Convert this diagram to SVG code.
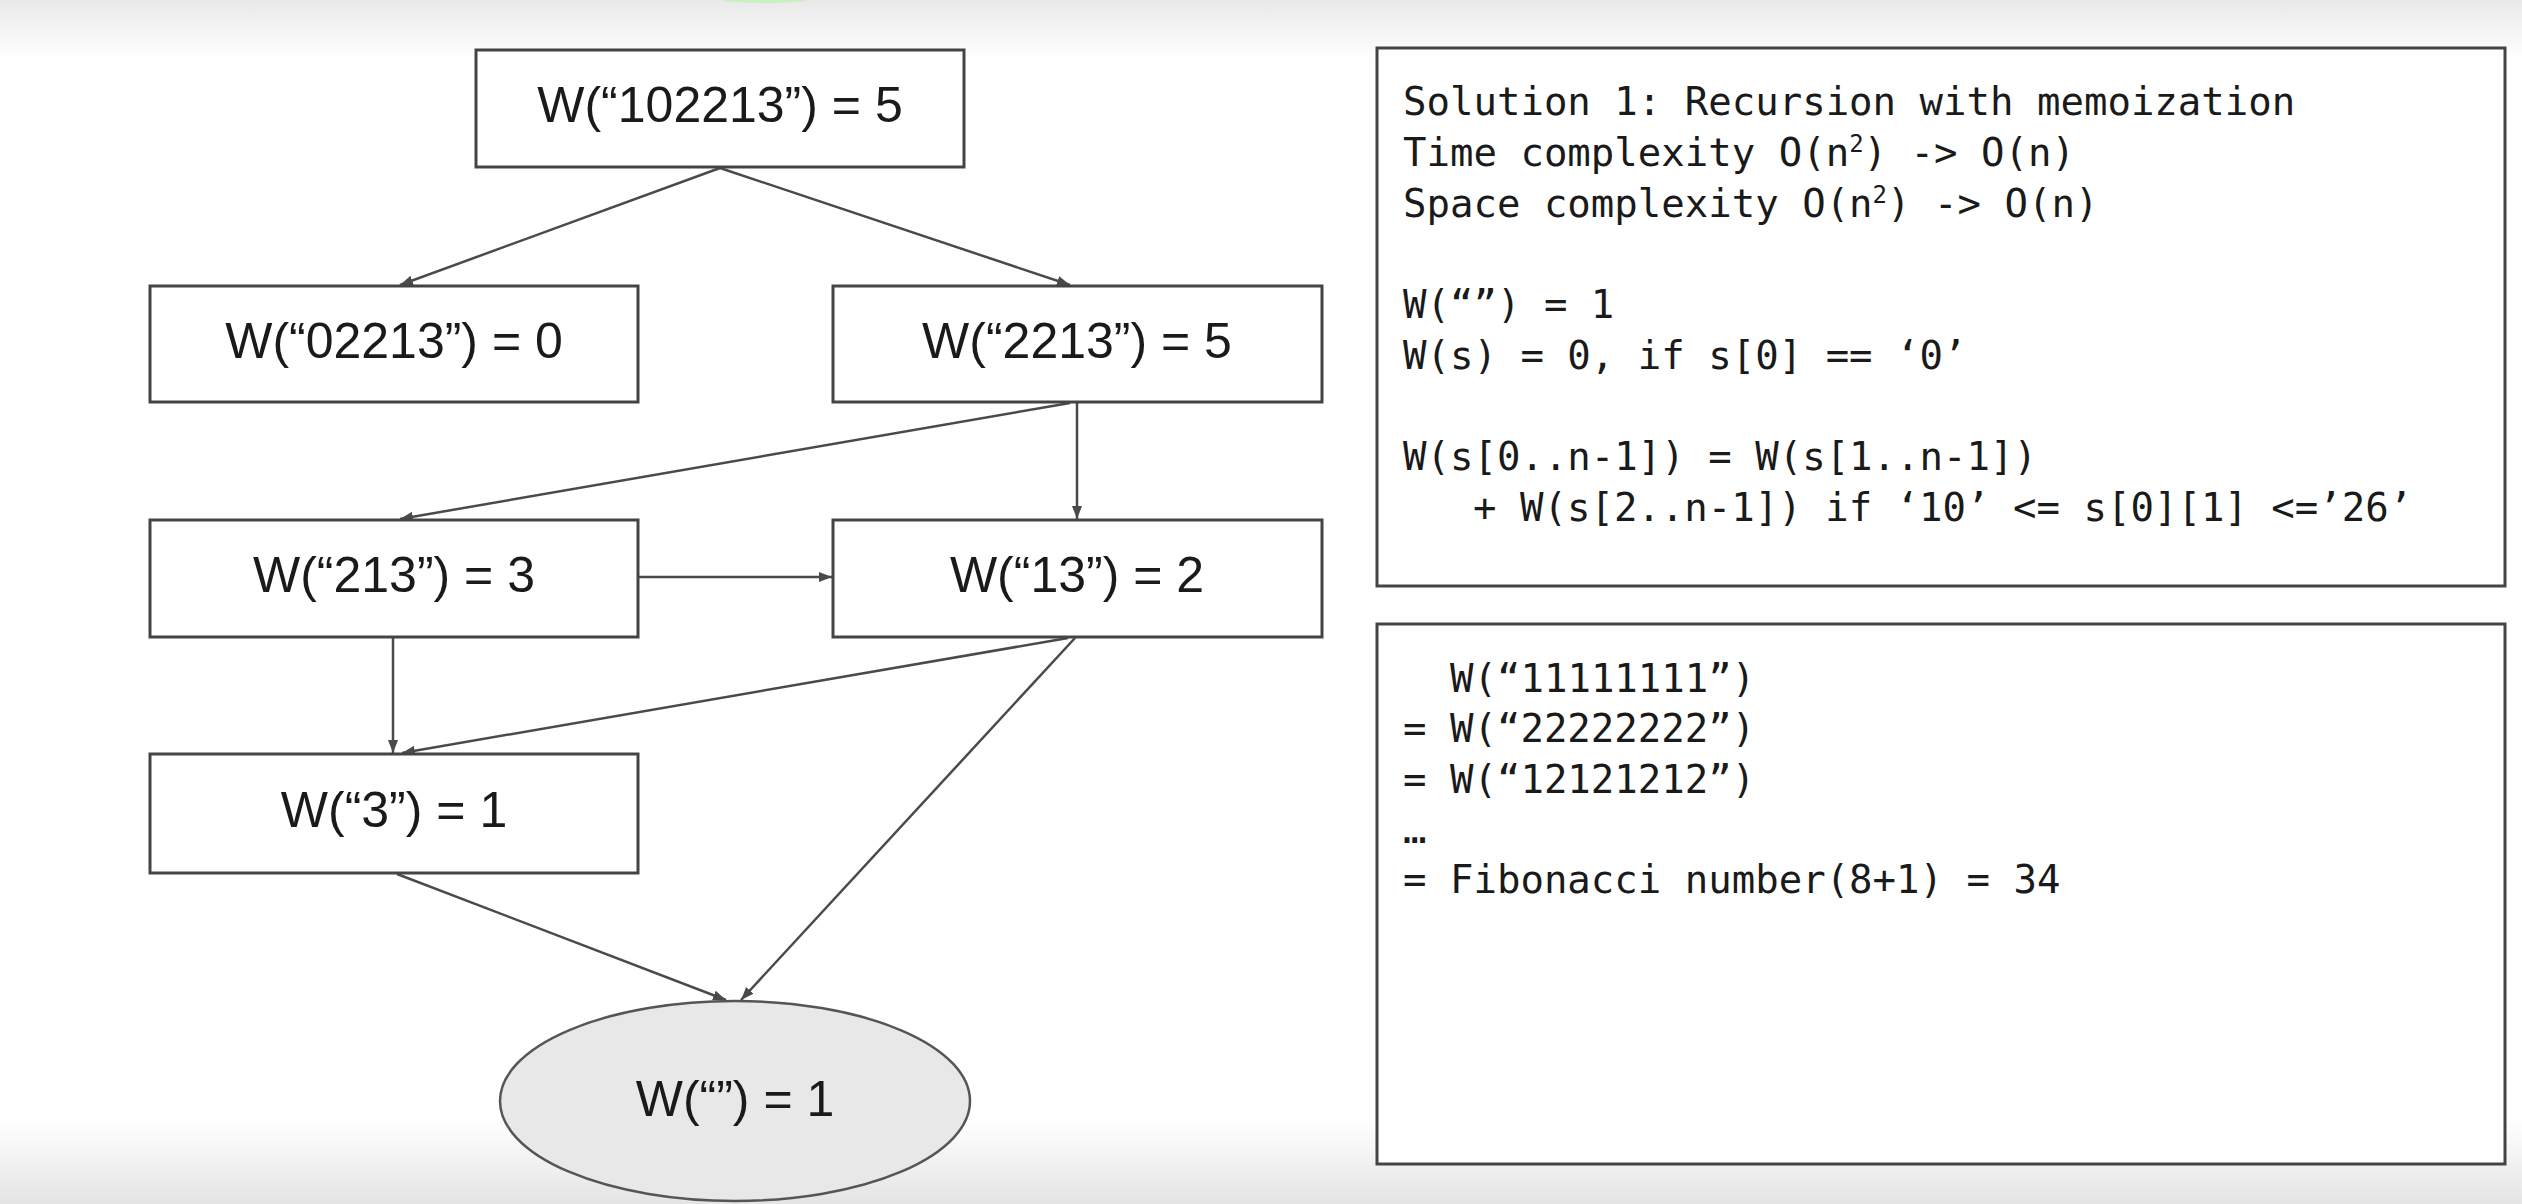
<svg xmlns="http://www.w3.org/2000/svg" width="2522" height="1204" viewBox="0 0 2522 1204">
<defs>
<linearGradient id="topfade" x1="0" y1="0" x2="0" y2="1">
<stop offset="0" stop-color="#e9e9e9"/>
<stop offset="1" stop-color="#ffffff"/>
</linearGradient>
<linearGradient id="botfade" x1="0" y1="0" x2="0" y2="1">
<stop offset="0" stop-color="#ffffff"/>
<stop offset="1" stop-color="#e4e4e4"/>
</linearGradient>
<marker id="arr" markerUnits="userSpaceOnUse" markerWidth="14" markerHeight="12" refX="13" refY="6" orient="auto">
<path d="M0,1 L13,6 L0,11 Z" fill="#4a4a4a"/>
</marker>
<style>
.box{fill:#ffffff;stroke:#444;stroke-width:3}
.oval{fill:#e8e8e8;stroke:#555;stroke-width:2.5}
.lbl{font-family:"Liberation Sans",Arial,sans-serif;font-size:50px;fill:#1a1a1a;text-anchor:middle}
.panel{fill:#ffffff;stroke:#444;stroke-width:3}
.code{font-family:"DejaVu Sans Mono","Liberation Mono",monospace;font-size:39px;fill:#1a1a1a}
.edge{stroke:#4a4a4a;stroke-width:2.5;fill:none;marker-end:url(#arr)}
</style>
</defs>
<rect x="0" y="0" width="2522" height="1204" fill="#ffffff"/>
<rect x="0" y="0" width="2522" height="60" fill="url(#topfade)"/>
<rect x="0" y="1120" width="2522" height="84" fill="url(#botfade)"/>
<ellipse cx="765" cy="0" rx="42" ry="3" fill="#c9f0c0"/>

<g id="connectors">
<line class="edge" x1="720" y1="168" x2="400" y2="285"/>
<line class="edge" x1="720" y1="168" x2="1070" y2="285"/>
<line class="edge" x1="1070" y1="403" x2="400" y2="519"/>
<line class="edge" x1="1077" y1="403" x2="1077" y2="519"/>
<line class="edge" x1="638" y1="577" x2="832" y2="577"/>
<line class="edge" x1="393" y1="638" x2="393" y2="753"/>
<line class="edge" x1="1068" y1="638" x2="402" y2="753"/>
<line class="edge" x1="1075" y1="638" x2="741" y2="1000"/>
<line class="edge" x1="397" y1="874" x2="726" y2="1000"/>
</g>

<g id="n102213">
<rect class="box" x="476" y="50" width="488" height="117"/>
<text class="lbl" x="720" y="122">W(“102213”) = 5</text>
</g>
<g id="n02213">
<rect class="box" x="150" y="286" width="488" height="116"/>
<text class="lbl" x="394" y="358">W(“02213”) = 0</text>
</g>
<g id="n2213">
<rect class="box" x="833" y="286" width="489" height="116"/>
<text class="lbl" x="1077" y="358">W(“2213”) = 5</text>
</g>
<g id="n213">
<rect class="box" x="150" y="520" width="488" height="117"/>
<text class="lbl" x="394" y="592">W(“213”) = 3</text>
</g>
<g id="n13">
<rect class="box" x="833" y="520" width="489" height="117"/>
<text class="lbl" x="1077" y="592">W(“13”) = 2</text>
</g>
<g id="n3">
<rect class="box" x="150" y="754" width="488" height="119"/>
<text class="lbl" x="394" y="827">W(“3”) = 1</text>
</g>
<g id="nempty">
<ellipse class="oval" cx="735" cy="1101" rx="235" ry="100"/>
<text class="lbl" x="735" y="1116">W(“”) = 1</text>
</g>

<g id="panel1">
<rect class="panel" x="1377" y="48" width="1128" height="538"/>
<text class="code" x="1403" y="115">Solution 1: Recursion with memoization</text>
<text class="code" x="1403" y="166">Time complexity O(n<tspan font-size="24" dy="-14">2</tspan><tspan dy="14">) -&gt; O(n)</tspan></text>
<text class="code" x="1403" y="217">Space complexity O(n<tspan font-size="24" dy="-14">2</tspan><tspan dy="14">) -&gt; O(n)</tspan></text>
<text class="code" x="1403" y="318">W(“”) = 1</text>
<text class="code" x="1403" y="369">W(s) = 0, if s[0] == ‘0’</text>
<text class="code" x="1403" y="470">W(s[0..n-1]) = W(s[1..n-1])</text>
<text class="code" x="1473" y="521">+ W(s[2..n-1]) if ‘10’ &lt;= s[0][1] &lt;=’26’</text>
</g>

<g id="panel2">
<rect class="panel" x="1377" y="624" width="1128" height="540"/>
<text class="code" x="1450" y="692">W(“11111111”)</text>
<text class="code" x="1403" y="742">= W(“22222222”)</text>
<text class="code" x="1403" y="793">= W(“12121212”)</text>
<text class="code" x="1403" y="843">…</text>
<text class="code" x="1403" y="893">= Fibonacci number(8+1) = 34</text>
</g>
</svg>
